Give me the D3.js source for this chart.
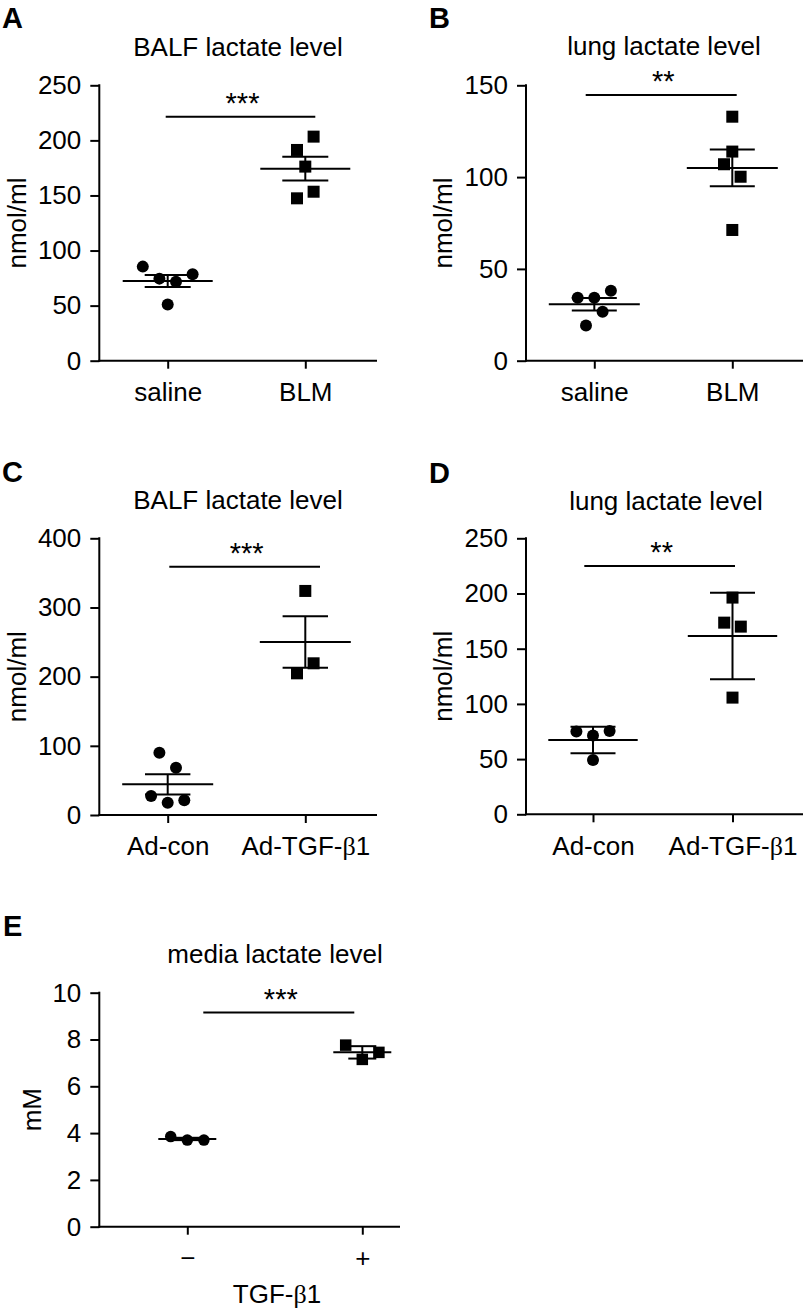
<!DOCTYPE html>
<html><head><meta charset="utf-8">
<script src="https://cdn.jsdelivr.net/npm/d3@7"></script>
<style>
html,body{margin:0;padding:0;background:#fff;}
svg text{font-family:"Liberation Sans",Arial,Helvetica,sans-serif;fill:#000;}
</style></head>
<body>
<svg id="fig" width="806" height="1311"></svg>
<script>
// ---------- data ----------
const catsAB = ["saline", "BLM"];
const catsCD = ["Ad-con", "Ad-TGF-β1"];
const catsE  = ["−", "+"];

const ticksA = [0, 50, 100, 150, 200, 250];
const ticksB = [0, 50, 100, 150];
const ticksC = [0, 100, 200, 300, 400];
const ticksD = [0, 50, 100, 150, 200, 250];
const ticksE = [0, 2, 4, 6, 8, 10];

const titles = ["BALF lactate level", "lung lactate level", "BALF lactate level", "lung lactate level", "media lactate level"];
const yLabels = ["nmol/ml", "nmol/ml", "nmol/ml", "nmol/ml", "mM"];
const letters = ["A", "B", "C", "D", "E"];
const stars = ["***", "**", "***", "**", "***"];

const aSaline = [85.4, 74.5, 71.7, 78.4, 51.1];
const aBLM    = [203.4, 191.3, 176.2, 153.4, 147.4];
const aMean = [72.3, 174.3], aSem = [5.45, 10.75], aSig = 221.5;

const bSaline = [34.3, 34.3, 38.1, 26.7, 19.2];
const bBLM    = [132.9, 113.9, 107.0, 100.2, 71.2];
const bMean = [30.7, 105.0], bSem = [3.4, 10.05], bSig = 144.7;

const cCon = [90.1, 68.4, 27.5, 17.8, 21.2];
const cTGF = [323.9, 219.3, 204.8];
const cMean = [44.3, 250.1], cSem = [14.7, 37.35], cSig = 359;

const dCon = [74.9, 71.3, 75.5, 49.2];
const dTGF = [196.3, 173.6, 170.0, 105.7];
const dMean = [67.3, 161.5], dSem = [12.05, 39.1], dSig = 224.9;

const eMinus = [3.85, 3.70, 3.70];
const ePlus  = [7.76, 7.15, 7.45];
const eMean = [3.75, 7.45], eSem = [0.05, 0.265], eSig = 9.15;

// horizontal spread slots of the scatter points
const aJit = [[-3, -1, 1, 3, 0], [1, -1, 0, 1, -1]];
const bJit = [[-2, 0, 2, 1, -1], [0, 0, -1, 1, 0]];
const cJit = [[-1, 1, -2, 0, 2], [0, 1, -1]];
const dJit = [[-2, 0, 2, 0], [0, -1, 1, 0]];
const eJit = [[-2, 0, 2], [-2, 0, 2]];

// ---------- layout ----------
const FS = 26;
const svg = d3.select("#fig");

const panels = [
  {i:0, cats:catsAB, ticks:ticksA, groups:[aSaline,aBLM], jit:aJit, mean:aMean, sem:aSem, sig:aSig,
   x0:99.3, x1:377, xt:[167.7,305.3], yTop:85.3, yBot:360.7, meanW:45, capW:23, ms:12, slot:8.3,
   title:[238,56], letter:[2,28], ylab:[17], sigX:[-2,10]},
  {i:1, cats:catsAB, ticks:ticksB, groups:[bSaline,bBLM], jit:bJit, mean:bMean, sem:bSem, sig:bSig,
   x0:526, x1:803, xt:[594.3,732.3], yTop:85.3, yBot:360.7, meanW:45.5, capW:22.5, ms:12, slot:8.3,
   title:[664,55], letter:[429,28], ylab:[443], sigX:[-8.6,4.4]},
  {i:2, cats:catsCD, ticks:ticksC, groups:[cCon,cTGF], jit:cJit, mean:cMean, sem:cSem, sig:cSig,
   x0:99.3, x1:377, xt:[167.7,305.3], yTop:538.3, yBot:815, meanW:45.5, capW:22.7, ms:12, slot:8.3,
   title:[238,509], letter:[2,482], ylab:[17], sigX:[1.6,14.7]},
  {i:3, cats:catsCD, ticks:ticksD, groups:[dCon,dTGF], jit:dJit, mean:dMean, sem:dSem, sig:dSig,
   x0:526, x1:803, xt:[593,732.5], yTop:538.3, yBot:814.3, meanW:44.7, capW:22.5, ms:12, slot:8.3,
   title:[666,510], letter:[429,483], ylab:[443], sigX:[-8.7,2.5]},
  {i:4, cats:catsE, ticks:ticksE, groups:[eMinus,ePlus], jit:eJit, mean:eMean, sem:eSem, sig:eSig,
   x0:99.3, x1:400, xt:[187.3,362.3], yTop:992.7, yBot:1226.7, meanW:29, capW:14, ms:11.5, slot:8.3,
   title:[275,963], letter:[3,936], ylab:[32], sigX:[16,-8]}
];

function betaLabel(sel, txt){
  // render the Greek beta in a serif face, as in the reference
  const parts = txt.split("β");
  sel.text(null);
  parts.forEach((p, k) => {
    if (k > 0) sel.append("tspan").style("font-family", "'Liberation Serif','DejaVu Serif',serif").text("β");
    if (p) sel.append("tspan").text(p);
  });
}

panels.forEach(p => {
  const g = svg.append("g");
  const yMax = d3.max(p.ticks);
  const y = d3.scaleLinear().domain([0, yMax]).range([p.yBot, p.yTop]);
  const x = d3.scalePoint().domain(p.cats).range(p.xt);

  // panel letter
  g.append("text").attr("x", p.letter[0]).attr("y", p.letter[1])
    .attr("font-size", 29).attr("font-weight", "bold").text(letters[p.i]);
  // title
  g.append("text").attr("x", p.title[0]).attr("y", p.title[1])
    .attr("text-anchor", "middle").attr("font-size", FS).text(titles[p.i]);
  // y label
  const yc = (p.yTop + p.yBot) / 2;
  g.append("text").attr("transform", `translate(${p.ylab[0]},${yc}) rotate(-90)`)
    .attr("text-anchor", "middle").attr("dy", "0.35em").attr("font-size", FS).text(yLabels[p.i]);

  // y axis
  const ya = g.append("g").attr("transform", `translate(${p.x0},0)`)
    .call(d3.axisLeft(y).tickValues(p.ticks).tickSize(9).tickPadding(9).tickFormat(d3.format("d")));
  ya.select(".domain").remove();
  ya.selectAll(".tick line").attr("stroke", "#000").attr("stroke-width", 2);
  ya.selectAll(".tick text").attr("font-size", FS).attr("font-family", "'Liberation Sans',Arial,sans-serif");
  g.append("line").attr("x1", p.x0).attr("x2", p.x0).attr("y1", p.yTop - 1).attr("y2", p.yBot + 1)
    .attr("stroke", "#000").attr("stroke-width", 2);

  // x axis
  const xa = g.append("g").attr("transform", `translate(0,${p.yBot})`)
    .call(d3.axisBottom(x).tickSize(8).tickPadding(14));
  xa.select(".domain").remove();
  xa.selectAll(".tick line").attr("stroke", "#000").attr("stroke-width", 2);
  xa.selectAll(".tick text").attr("font-size", FS).attr("font-family", "'Liberation Sans',Arial,sans-serif")
    .each(function(d){ if (d.includes("β")) betaLabel(d3.select(this), d); });
  g.append("line").attr("x1", p.x0 - 1).attr("x2", p.x1).attr("y1", p.yBot).attr("y2", p.yBot)
    .attr("stroke", "#000").attr("stroke-width", 2);

  // points
  p.groups.forEach((vals, gi) => {
    const cx = x(p.cats[gi]);
    const pts = vals.map((v, k) => ({v, px: cx + p.jit[gi][k] * p.slot}));
    if (gi === 0) {
      g.selectAll(null).data(pts).enter().append("circle")
        .attr("cx", d => d.px).attr("cy", d => y(d.v)).attr("r", p.ms / 2).attr("fill", "#000");
    } else {
      g.selectAll(null).data(pts).enter().append("rect")
        .attr("x", d => d.px - p.ms / 2).attr("y", d => y(d.v) - p.ms / 2)
        .attr("width", p.ms).attr("height", p.ms).attr("fill", "#000");
    }
    // mean ± SEM
    const m = p.mean[gi], s = p.sem[gi];
    const lw = 2;
    g.append("line").attr("x1", cx - p.meanW).attr("x2", cx + p.meanW).attr("y1", y(m)).attr("y2", y(m))
      .attr("stroke", "#000").attr("stroke-width", lw);
    g.append("line").attr("x1", cx).attr("x2", cx).attr("y1", y(m + s)).attr("y2", y(m - s))
      .attr("stroke", "#000").attr("stroke-width", lw);
    [m + s, m - s].forEach(v => g.append("line").attr("x1", cx - p.capW).attr("x2", cx + p.capW)
      .attr("y1", y(v)).attr("y2", y(v)).attr("stroke", "#000").attr("stroke-width", lw));
  });

  // significance bar
  const sx1 = x(p.cats[0]) + p.sigX[0], sx2 = x(p.cats[1]) + p.sigX[1];
  g.append("line").attr("x1", sx1).attr("x2", sx2).attr("y1", y(p.sig)).attr("y2", y(p.sig))
    .attr("stroke", "#000").attr("stroke-width", 2);
  g.append("text").attr("x", (sx1 + sx2) / 2 + 2).attr("y", y(p.sig) - 4)
    .attr("text-anchor", "middle").attr("font-size", FS + 3).text(stars[p.i]);
});

// x-axis title for panel E
{
  const t = svg.append("text").attr("x", 277).attr("y", 1303).attr("text-anchor", "middle").attr("font-size", FS);
  betaLabel(t, "TGF-β1");
}
</script>
</body></html>
